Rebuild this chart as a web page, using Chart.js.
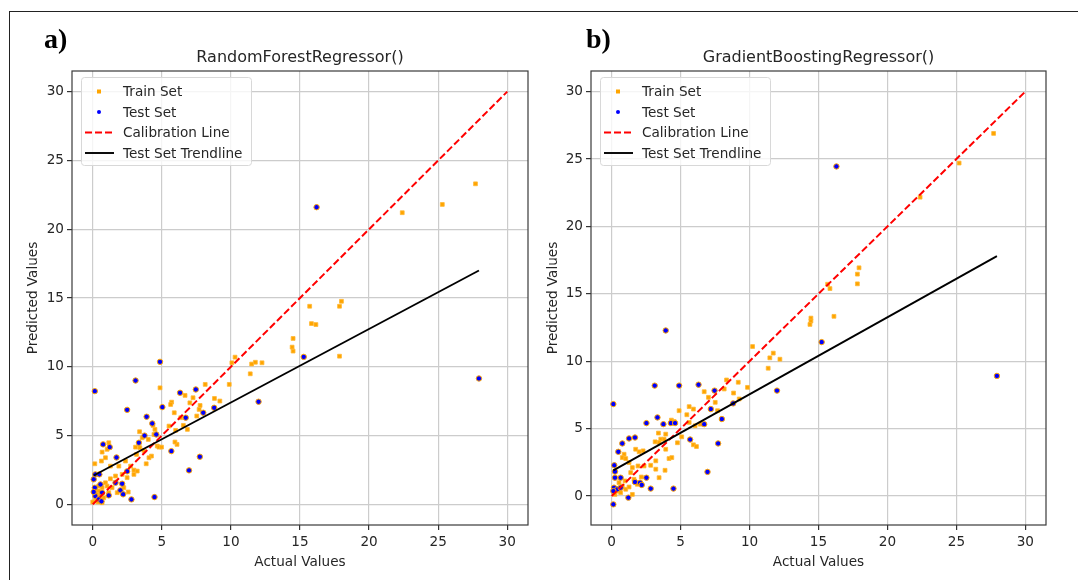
<!DOCTYPE html>
<html>
<head>
<meta charset="utf-8">
<script src="https://cdn.jsdelivr.net/npm/chart.js@4.4.0/dist/chart.umd.min.js"></script>
<style>
  body { margin: 0; background: #fff; }
  #wrap { position: relative; width: 1078px; height: 580px; overflow: hidden; background: #fff; }
  #frame { position: absolute; left: 9px; top: 11px; width: 1075px; height: 575px;
           border-top: 1.5px solid #222; border-left: 1.5px solid #222; }
  .panel { position: absolute; top: 0; }
  .tag { position: absolute; top: 25px; font: bold 28px "Liberation Serif", "Times New Roman", serif;
         line-height: 1; color: #000; }
</style>
</head>
<body>
<div id="wrap">
  <div id="frame"></div>
  <canvas id="rfChart" class="panel" style="left:0px" width="540" height="580"></canvas>
  <canvas id="gbChart" class="panel" style="left:540px" width="538" height="580"></canvas>
  <div class="tag" style="left:44px">a)</div>
  <div class="tag" style="left:586px">b)</div>
</div>
<script>
// tick labels shared by both panels
const axisTicks = [0, 5, 10, 15, 20, 25, 30];

// calibration line y = x
const calibX = [0, 30];
const calibY = [0, 30];

// a) RandomForestRegressor()
const rfTrainX = [9.88, 8.14, 4.87, 6.68, 7.26, 8.81, 9.2, 5.71, 5.64, 7.03, 7.77, 7.7, 5.9, 7.53, 6.37, 5.52, 6.56, 6.0, 6.85, 4.36,
  4.5, 4.43, 3.39, 3.58, 4.02, 4.67, 3.1, 3.41, 3.7, 4.79, 4.98, 6.1, 5.95, 4.25, 4.07, 3.87, 3.17, 0.68, 1.04, 1.16,
  0.92, 0.15, 0.63, 1.28, 1.89, 2.37, 2.74, 2.98, 3.22, 2.13, 1.65, 2.49, 1.28, 0.92, 0.68, 1.04, 1.4, 1.77, 0.43, 0.31,
  0.56, 0.19, 0.8, 0.0, 0.39, 0.68, 1.16, 0.43, 2.25, 2.57, 2.98,
  27.7, 25.3, 22.4, 18.0, 17.86, 15.7, 15.83, 16.15, 14.5, 14.43, 14.5, 17.86, 10.3, 11.5, 11.77, 12.25, 11.4, 10.07];
const rfTrainY = [8.72, 8.72, 8.47, 7.92, 7.75, 7.7, 7.51, 7.43, 7.26, 7.38, 7.19, 6.9, 6.66, 6.42, 6.3, 5.69, 5.74, 5.38, 5.45, 5.74,
  5.45, 5.08, 5.28, 4.84, 4.72, 4.24, 4.16, 4.12, 3.92, 4.16, 4.16, 4.36, 4.53, 3.51, 3.39, 2.95, 3.63, 3.8, 4.0, 4.48,
  3.39, 2.95, 3.15, 2.78, 2.78, 3.15, 2.78, 2.49, 2.42, 2.18, 2.06, 1.94, 1.86, 1.57, 1.21, 1.33, 1.21, 0.85, 0.97, 0.73,
  0.6, 0.24, 0.48, 0.17, 0.17, 0.12, 0.85, 1.33, 1.21, 0.9, 2.18,
  23.3, 21.8, 21.2, 14.76, 14.4, 14.4, 13.14, 13.07, 12.06, 11.43, 11.14, 10.77, 10.7, 10.2, 10.33, 10.29, 9.49, 10.29];
const rfTestX = [4.87, 3.1, 0.15, 2.49, 3.9, 5.04, 6.32, 7.46, 4.31, 6.73, 8.0, 8.79, 12.0, 3.75, 4.6, 0.75, 1.23, 3.34, 1.72, 5.69,
  7.75, 6.97, 2.49, 0.19, 0.48, 0.07, 0.56, 0.15, 1.65, 2.13, 2.0, 2.2, 1.16, 0.19, 0.43, 0.63, 2.8, 4.47, 0.07, 0.68,
  16.2, 15.27, 27.95];
const rfTestY = [10.36, 9.0, 8.23, 6.87, 6.37, 7.07, 8.11, 8.35, 5.88, 6.3, 6.66, 7.02, 7.46, 5.0, 5.08, 4.36, 4.16, 4.48, 3.41, 3.87,
  3.46, 2.47, 2.4, 2.18, 2.18, 1.82, 1.45, 1.21, 1.57, 1.5, 1.02, 0.73, 0.65, 0.6, 0.36, 0.22, 0.36, 0.53, 0.9, 0.85,
  21.6, 10.72, 9.15];
const rfTrendX = [0.07, 27.95];
const rfTrendY = [2.1, 17.0];

// b) GradientBoostingRegressor()
const gbTrainX = [10.22, 9.85, 8.33, 9.18, 8.16, 8.84, 6.71, 7.02, 7.51, 7.68, 9.25, 5.62, 5.93, 4.89, 5.45, 4.33, 4.53, 5.62, 6.05, 6.42,
  5.08, 3.92, 3.39, 3.56, 3.15, 3.44, 3.8, 4.77, 5.93, 6.15, 1.74, 1.99, 2.28, 0.9, 0.77, 1.02, 1.26, 1.5, 1.91, 2.35,
  2.83, 3.2, 3.2, 3.87, 4.16, 4.36, 1.38, 2.15, 1.62, 1.86, 0.97, 0.53, 0.77, 0.41, 0.65, 0.24, 1.02, 1.26, 1.5, 3.44, 3.92,
  27.7, 25.2, 22.37, 17.94, 17.82, 17.82, 15.66, 15.83, 16.12, 14.45, 14.45, 14.38, 11.72, 11.47, 12.2, 11.35];
const gbTrainY = [11.09, 8.06, 8.61, 8.44, 7.94, 7.64, 7.74, 7.32, 6.95, 6.33, 7.2, 6.63, 6.45, 6.33, 6.03, 5.63, 5.53, 5.46, 5.21, 5.33,
  4.39, 4.59, 4.67, 4.22, 4.02, 3.97, 4.22, 3.95, 3.8, 3.67, 3.47, 3.28, 3.35, 3.1, 2.85, 2.78, 2.48, 2.11, 2.23, 2.23,
  2.28, 2.61, 1.99, 1.91, 2.78, 2.85, 1.74, 1.41, 1.24, 0.87, 1.12, 0.99, 0.74, 0.37, 0.25, 0.12, 0.5, 0.67, 0.12, 1.36, 3.47,
  26.9, 24.7, 22.17, 16.93, 16.46, 15.74, 15.71, 15.39, 13.33, 13.2, 12.98, 12.73, 10.6, 10.25, 10.15, 9.48];
const gbTestX = [3.92, 0.12, 3.12, 4.89, 6.3, 7.46, 2.52, 3.32, 3.75, 4.29, 4.6, 8.81, 7.19, 7.99, 6.71, 0.77, 1.26, 1.69, 0.48, 5.69,
  7.72, 0.19, 0.24, 0.24, 0.65, 0.17, 0.41, 0.12, 0.65, 1.69, 2.06, 2.18, 2.52, 2.83, 4.48, 6.95, 1.21, 0.12, 11.99,
  16.3, 15.23, 27.94];
const gbTestY = [12.28, 6.82, 8.19, 8.19, 8.26, 7.82, 5.41, 5.83, 5.33, 5.41, 5.41, 6.87, 6.45, 5.71, 5.33, 3.9, 4.27, 4.34, 3.28, 4.19,
  3.9, 2.28, 1.81, 1.36, 1.36, 0.62, 0.5, 0.37, 0.62, 1.04, 0.99, 0.82, 1.36, 0.55, 0.55, 1.79, -0.12, -0.62, 7.82,
  24.45, 11.42, 8.91];
const gbTrendX = [0.12, 27.94];
const gbTrendY = [1.9, 17.8];

const FONT = '"DejaVu Sans", Arial, sans-serif';
const TEXT = '#262626';
const LABEL_SIZE = 13.6;

function toPoints(xs, ys) {
  return xs.map((x, i) => ({ x: x, y: ys[i] }));
}

// box round the plot area (matplotlib spines)
const axesFrame = {
  id: 'axesFrame',
  afterDatasetsDraw(chart) {
    const { ctx, chartArea: a } = chart;
    ctx.save();
    ctx.strokeStyle = '#3a3a3a';
    ctx.lineWidth = 1.2;
    ctx.strokeRect(a.left, a.top, a.right - a.left, a.bottom - a.top);
    ctx.restore();
  }
};

// legend drawn inside the axes, upper left
const insideLegend = {
  id: 'insideLegend',
  afterDraw(chart) {
    const { ctx, chartArea: a } = chart;
    const x0 = a.left + 9, y0 = a.top + 6;
    ctx.save();
    ctx.fillStyle = 'rgba(255,255,255,0.8)';
    ctx.strokeStyle = '#d8d8d8';
    ctx.lineWidth = 1;
    ctx.beginPath();
    ctx.roundRect(x0 + 0.5, y0 + 0.5, 170, 88, 3);
    ctx.fill();
    ctx.stroke();
    ctx.font = LABEL_SIZE + 'px ' + FONT;
    ctx.textBaseline = 'middle';
    chart.data.datasets.forEach((ds, i) => {
      const y = y0 + 14.5 + i * 20.5;
      if (ds.showLine) {
        ctx.strokeStyle = ds.borderColor;
        ctx.lineWidth = ds.borderWidth;
        ctx.setLineDash(ds.borderDash || []);
        ctx.beginPath();
        ctx.moveTo(x0 + 4, y);
        ctx.lineTo(x0 + 33, y);
        ctx.stroke();
        ctx.setLineDash([]);
      } else {
        ctx.fillStyle = ds.backgroundColor;
        if (ds.pointStyle === 'rect') {
          ctx.fillRect(x0 + 16, y - 2, 4, 4);
        } else {
          ctx.beginPath();
          ctx.arc(x0 + 18, y, 2, 0, Math.PI * 2);
          ctx.fill();
        }
      }
      ctx.fillStyle = TEXT;
      ctx.fillText(ds.label, x0 + 42, y + 1);
    });
    ctx.restore();
  }
};

function makePanel(id, title, trainX, trainY, testX, testY, trendX, trendY, yMin, yMax, pad, yWidth) {
  return new Chart(document.getElementById(id), {
    type: 'scatter',
    data: {
      datasets: [
        {
          label: 'Train Set',
          data: toPoints(trainX, trainY),
          pointStyle: 'rect',
          pointRadius: 2.7,
          backgroundColor: '#FFA500',
          borderColor: '#FFB733',
          borderWidth: 0.8,
          order: 3
        },
        {
          label: 'Test Set',
          data: toPoints(testX, testY),
          pointStyle: 'circle',
          pointRadius: 2.7,
          backgroundColor: '#0000FF',
          borderColor: '#FFA500',
          borderWidth: 1,
          order: 2
        },
        {
          label: 'Calibration Line',
          data: toPoints(calibX, calibY),
          showLine: true,
          pointRadius: 0,
          borderColor: '#FF0000',
          borderWidth: 2,
          borderDash: [7, 3],
          order: 1
        },
        {
          label: 'Test Set Trendline',
          data: toPoints(trendX, trendY),
          showLine: true,
          pointRadius: 0,
          borderColor: '#000000',
          borderWidth: 1.9,
          order: 0
        }
      ]
    },
    options: {
      responsive: false,
      animation: false,
      devicePixelRatio: 1,
      layout: { padding: pad },
      scales: {
        x: {
          type: 'linear',
          min: -1.5,
          max: 31.5,
          afterBuildTicks: (axis) => { axis.ticks = axisTicks.map(v => ({ value: v })); },
          afterFit: (axis) => { axis.height = 50; },
          grid: { color: '#cccccc', lineWidth: 1.2, tickLength: 5, tickColor: '#333' },
          border: { display: false },
          ticks: { color: TEXT, font: { family: FONT, size: LABEL_SIZE }, padding: 4, maxRotation: 0 },
          title: { display: true, text: 'Actual Values', color: TEXT, font: { family: FONT, size: LABEL_SIZE }, padding: 4 }
        },
        y: {
          type: 'linear',
          min: yMin,
          max: yMax,
          afterBuildTicks: (axis) => { axis.ticks = axisTicks.map(v => ({ value: v })); },
          afterFit: (axis) => { axis.width = yWidth; },
          grid: { color: '#cccccc', lineWidth: 1.2, tickLength: 5, tickColor: '#333' },
          border: { display: false },
          ticks: { color: TEXT, font: { family: FONT, size: LABEL_SIZE }, padding: 3 },
          title: { display: true, text: 'Predicted Values', color: TEXT, font: { family: FONT, size: LABEL_SIZE }, padding: 4 }
        }
      },
      plugins: {
        legend: { display: false },
        tooltip: { enabled: false },
        title: {
          display: true,
          text: title,
          fullSize: false,
          color: TEXT,
          font: { family: FONT, size: 16, weight: 'normal' },
          padding: { top: 48, bottom: 3.8 }
        }
      }
    },
    plugins: [axesFrame, insideLegend]
  });
}

makePanel('rfChart', 'RandomForestRegressor()', rfTrainX, rfTrainY, rfTestX, rfTestY, rfTrendX, rfTrendY,
  -1.5, 31.5, { left: 21, right: 12, top: 0, bottom: 5 }, 51);
makePanel('gbChart', 'GradientBoostingRegressor()', gbTrainX, gbTrainY, gbTestX, gbTestY, gbTrendX, gbTrendY,
  -2.15, 31.53, { left: 1, right: 32, top: 0, bottom: 5 }, 50);
</script>
</body>
</html>
